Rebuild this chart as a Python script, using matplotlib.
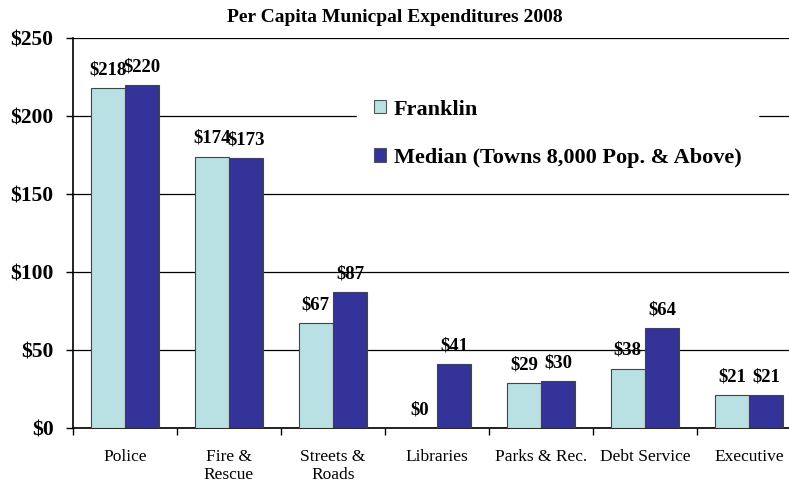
import numpy as np
import matplotlib
matplotlib.use("Agg")
import matplotlib.pyplot as plt
from matplotlib.ticker import FixedLocator

plt.rcParams['font.family'] = ['Liberation Serif', 'DejaVu Serif']

# datos
categorias = ['Police', 'Fire &\nRescue', 'Streets &\nRoads', 'Libraries',
              'Parks & Rec.', 'Debt Service', 'Executive']
franklin = [218, 174, 67, 0, 29, 38, 21]
mediana = [220, 173, 87, 41, 30, 64, 21]
yticks = [0, 50, 100, 150, 200, 250]

color_franklin = '#B9E0E2'
color_mediana = '#333399'

fig = plt.figure(figsize=(7.89, 4.82), dpi=100)
ax = fig.add_axes([73 / 789, 54 / 482, 728 / 789, 390 / 482])

x = np.arange(len(categorias))
w = 0.33
b1 = ax.bar(x - w / 2, franklin, w, color=color_franklin, edgecolor='#444444',
            linewidth=0.8, label='Franklin', zorder=3)
b2 = ax.bar(x + w / 2, mediana, w, color=color_mediana, edgecolor='#444444',
            linewidth=0.8, label='Median (Towns 8,000 Pop. & Above)', zorder=3)

# etiquetas de valor encima de cada barra
for barras, vals in [(b1, franklin), (b2, mediana)]:
    for r, v in zip(barras, vals):
        ax.annotate(f'${v}', (r.get_x() + r.get_width() / 2, v),
                    xytext=(0, 7), textcoords='offset points',
                    ha='center', va='bottom', fontsize=13.5, fontweight='bold')

ax.set_xlim(-0.5, len(categorias) - 0.5)
ax.set_ylim(0, 250)
ax.set_yticks(yticks)
ax.set_yticklabels([f'${t}' for t in yticks], fontsize=15.5, fontweight='bold')
ax.yaxis.grid(True, color='black', linewidth=0.9, zorder=0)
ax.tick_params(axis='y', length=5, width=1, pad=9)

ax.set_xticks(x)
ax.set_xticklabels(categorias, fontsize=12.5, va='top', linespacing=1.2)
ax.tick_params(axis='x', which='major', length=0, pad=15)
ax.xaxis.set_minor_locator(FixedLocator(np.arange(len(categorias)) - 0.5))
ax.tick_params(axis='x', which='minor', length=5, width=1)

for s in ['top', 'right']:
    ax.spines[s].set_visible(False)
ax.spines['left'].set_linewidth(1.2)
ax.spines['bottom'].set_linewidth(1.2)

leg = ax.legend(loc='upper left', bbox_to_anchor=(0.39, 0.885),
                prop={'size': 16, 'weight': 'bold'}, frameon=True,
                fancybox=False, edgecolor='white', framealpha=1,
                handlelength=0.55, handleheight=0.55, handletextpad=0.35,
                labelspacing=1.28, borderpad=0.75, borderaxespad=0)
leg.set_zorder(5)
for h in leg.legend_handles:
    h.set_edgecolor('#555555')

fig.text(0.5, 0.963, 'Per Capita Municpal Expenditures 2008', ha='center',
         va='center', fontsize=14, fontweight='bold')

fig.savefig('out.png', dpi=100)
